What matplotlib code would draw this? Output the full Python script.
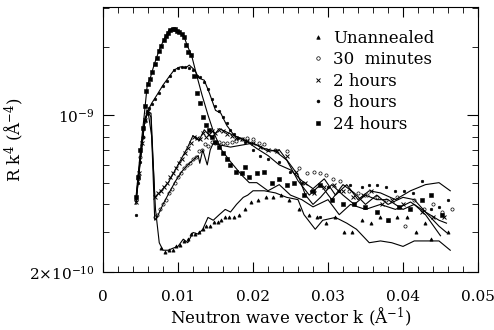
import numpy as np
import matplotlib.pyplot as plt
from matplotlib.ticker import FixedLocator, FixedFormatter, NullFormatter, MultipleLocator

plt.rcParams['font.family'] = 'DejaVu Serif'
plt.rcParams['mathtext.fontset'] = 'dejavuserif'

# R k^4 en unidades de 1e-10 A^-4, k en A^-1

# --- Unannealed ---
k_un_line = [0.0044, 0.005, 0.0056, 0.006, 0.0065, 0.007, 0.0075, 0.008, 0.0087, 0.0093, 0.010, 0.0107,
             0.0113, 0.012, 0.0127, 0.0133, 0.014, 0.0147, 0.0155, 0.0163, 0.017, 0.0178, 0.0187, 0.0193,
             0.020, 0.0215, 0.023, 0.0245, 0.026, 0.0268, 0.0283, 0.0293, 0.031, 0.0325, 0.0338, 0.0355,
             0.037, 0.0385, 0.040, 0.0415, 0.043, 0.0448, 0.0463]
R_un_line = [4.0, 6.5, 9.7, 10.4, 8.0, 3.8, 2.7, 2.5, 2.5, 2.55, 2.6, 2.8,
             2.7, 3.0, 2.95, 3.1, 3.5, 3.4, 3.6, 3.8, 3.7, 4.0, 4.3, 4.4,
             4.6, 4.6, 4.5, 4.3, 4.2, 3.6, 3.1, 3.4, 3.5, 3.3, 3.1, 2.7,
             2.75, 2.7, 2.6, 2.75, 2.75, 2.75, 2.5]
k_un_pts = [0.0078, 0.0083, 0.0088, 0.0093, 0.0098, 0.0103, 0.0108, 0.0113, 0.0118, 0.0123, 0.0128,
            0.0133, 0.0138, 0.0143, 0.0148, 0.0153, 0.0158, 0.0163, 0.0168, 0.0175, 0.0182, 0.0190,
            0.0198, 0.0207, 0.0217, 0.0227, 0.0237, 0.0248, 0.0262, 0.0275, 0.0285, 0.0298, 0.031,
            0.0322, 0.0332, 0.0345, 0.0358, 0.037, 0.038, 0.0392, 0.0405, 0.0418, 0.043, 0.0438, 0.046]
R_un_pts = [2.55, 2.45, 2.5, 2.5, 2.6, 2.65, 2.75, 2.8, 2.95, 2.95, 3.0,
            3.1, 3.2, 3.2, 3.35, 3.35, 3.4, 3.5, 3.5, 3.5, 3.6, 3.8,
            4.1, 4.2, 4.3, 4.3, 4.4, 4.2, 3.8, 3.6, 3.5, 3.3, 3.5,
            3.0, 3.0, 3.4, 3.3, 3.5, 3.4, 3.5, 3.5, 3.0, 3.3, 2.8, 3.0]

# --- 30 minutes ---
k_30_line = [0.0044, 0.005, 0.0056, 0.006, 0.0064, 0.0069, 0.0072, 0.008, 0.0088, 0.0097, 0.0105, 0.0113,
             0.012, 0.0127, 0.0129, 0.0133, 0.0139, 0.0143, 0.0147, 0.0157, 0.017, 0.0185, 0.020, 0.0215,
             0.023, 0.0245, 0.026, 0.0275, 0.029, 0.0305, 0.032, 0.0335, 0.035, 0.0365, 0.038, 0.040,
             0.0415, 0.043, 0.0448, 0.0458]
R_30_line = [4.2, 6.6, 9.6, 10.3, 9.8, 3.4, 3.5, 4.0, 4.5, 5.1, 5.6, 6.0,
             6.3, 6.6, 6.1, 7.0, 6.0, 7.0, 7.5, 7.35, 7.2, 7.35, 7.5, 7.1,
             6.9, 6.3, 5.1, 4.4, 4.9, 4.2, 4.9, 4.5, 4.0, 4.4, 4.0, 4.3,
             4.2, 3.7, 3.4, 3.3]
k_30_pts = [0.0044, 0.0047, 0.005, 0.0053, 0.0056, 0.0059, 0.0069, 0.0072, 0.0076, 0.008, 0.0084,
            0.0088, 0.0092, 0.0096, 0.010, 0.0104, 0.0108, 0.0112, 0.0116, 0.012, 0.0124, 0.0128,
            0.0132, 0.0136, 0.014, 0.0145, 0.015, 0.0155, 0.016, 0.0166, 0.0172, 0.0178, 0.0185,
            0.0192, 0.020, 0.0208, 0.0215, 0.023, 0.0245, 0.0262, 0.0272, 0.0282, 0.029, 0.0298,
            0.0307, 0.0316, 0.0328, 0.034, 0.0352, 0.0365, 0.0378, 0.0392, 0.0403, 0.0415, 0.0428,
            0.044, 0.0452, 0.0465]
R_30_pts = [4.2, 5.2, 6.5, 8.0, 9.4, 10.2, 3.5, 3.6, 3.8, 4.0, 4.2,
            4.5, 4.7, 5.0, 5.3, 5.5, 5.8, 6.0, 6.1, 6.4, 6.5, 6.9,
            7.0, 7.4, 7.3, 7.6, 7.5, 7.6, 7.5, 7.5, 7.6, 7.7, 7.8,
            7.9, 7.8, 7.5, 7.4, 7.0, 6.9, 5.8, 5.5, 5.6, 5.5, 5.4,
            5.2, 5.1, 4.6, 4.5, 4.4, 4.3, 4.2, 4.3, 3.2, 4.2, 3.8,
            4.0, 3.7, 3.8]

# --- 2 hours ---
k_2h_line = [0.0044, 0.005, 0.0056, 0.006, 0.0064, 0.0069, 0.0075, 0.0087, 0.010, 0.0113, 0.012, 0.0128,
             0.0135, 0.0145, 0.0155, 0.0165, 0.0175, 0.019, 0.0205, 0.022, 0.0235, 0.025, 0.026, 0.027,
             0.028, 0.029, 0.0305, 0.032, 0.0335, 0.035, 0.0365, 0.038, 0.040, 0.0415, 0.043, 0.045]
R_2h_line = [4.2, 6.5, 9.5, 10.3, 10.2, 4.3, 4.5, 5.0, 6.0, 7.2, 8.1, 7.7,
             8.6, 7.9, 8.7, 8.4, 8.1, 7.7, 7.35, 6.9, 7.0, 6.0, 5.4, 4.4,
             4.0, 4.3, 4.9, 4.4, 4.0, 4.4, 4.2, 4.2, 3.8, 4.0, 3.6, 2.9]
k_2h_pts = [0.0044, 0.0048, 0.0052, 0.0056, 0.006, 0.0069, 0.0073, 0.0077, 0.0081, 0.0085, 0.0089,
            0.0093, 0.0097, 0.0101, 0.0105, 0.0109, 0.0113, 0.0117, 0.0121, 0.0125, 0.0129, 0.0133,
            0.0137, 0.0141, 0.0145, 0.015, 0.0155, 0.016, 0.0166, 0.0172, 0.0178, 0.0185, 0.0192,
            0.020, 0.021, 0.022, 0.0232, 0.0245, 0.0258, 0.027, 0.0282, 0.0295, 0.0308, 0.032,
            0.0333, 0.0347, 0.0358, 0.0372, 0.0385, 0.040, 0.0425, 0.044, 0.0455]
R_2h_pts = [4.1, 5.5, 7.5, 9.5, 10.4, 4.3, 4.5, 4.6, 4.8, 5.0, 5.3,
            5.5, 5.8, 6.1, 6.4, 6.8, 7.1, 7.5, 8.0, 7.9, 7.8, 8.3,
            8.0, 8.2, 8.5, 8.3, 8.6, 8.5, 8.2, 8.1, 7.9, 7.8, 7.7,
            7.5, 7.2, 7.0, 6.9, 6.6, 5.6, 5.0, 4.5, 4.8, 4.9, 4.6,
            4.3, 4.4, 4.6, 4.0, 4.2, 4.0, 3.7, 3.5, 3.5]

# --- 8 hours ---
k_8h_line = [0.0044, 0.005, 0.0055, 0.006, 0.0065, 0.0072, 0.008, 0.0088, 0.0095, 0.0103, 0.011, 0.0115,
             0.0122, 0.0128, 0.0135, 0.0142, 0.015, 0.0157, 0.0165, 0.0175, 0.019, 0.0205, 0.022, 0.0235,
             0.025, 0.0265, 0.028, 0.0295, 0.031, 0.0325, 0.034, 0.0355, 0.037, 0.039, 0.041, 0.043,
             0.0448, 0.0463]
R_8h_line = [4.1, 6.3, 9.0, 10.5, 11.3, 12.3, 13.6, 14.8, 15.9, 16.4, 16.2, 16.7,
             15.9, 14.6, 14.3, 12.5, 10.5, 10.2, 9.0, 8.1, 7.7, 7.1, 6.6, 6.0,
             5.7, 5.1, 4.7, 5.2, 4.4, 4.9, 4.2, 4.6, 4.5, 4.2, 4.6, 4.9,
             5.0, 4.6]
k_8h_pts = [0.0044, 0.0047, 0.005, 0.0053, 0.0056, 0.0059, 0.0062, 0.0066, 0.007, 0.0075, 0.008,
            0.0085, 0.009, 0.0095, 0.010, 0.0105, 0.011, 0.0115, 0.012, 0.0125, 0.013, 0.0135,
            0.014, 0.0145, 0.015, 0.0155, 0.016, 0.0165, 0.017, 0.0175, 0.018, 0.019, 0.020,
            0.021, 0.022, 0.0235, 0.025, 0.0265, 0.0278, 0.029, 0.030, 0.0315, 0.033, 0.0345,
            0.0355, 0.0365, 0.0378, 0.039, 0.0402, 0.0413, 0.0425, 0.0438, 0.0448, 0.046]
R_8h_pts = [3.6, 5.0, 6.2, 8.0, 9.5, 10.4, 10.8, 11.2, 11.8, 12.5, 13.5,
            14.2, 15.0, 15.8, 16.2, 16.3, 16.4, 16.2, 15.8, 15.0, 14.8, 14.0,
            13.0, 11.8, 11.0, 10.4, 9.8, 9.2, 8.6, 8.2, 7.9, 7.6, 7.0,
            6.6, 6.4, 6.2, 5.6, 5.0, 4.6, 3.5, 4.8, 4.6, 4.9, 4.8,
            4.9, 4.9, 4.8, 4.6, 4.6, 4.5, 5.1, 3.8, 3.9, 4.2]

# --- 24 hours ---
k_24_line = [0.0044, 0.005, 0.0055, 0.0059, 0.0063, 0.0068, 0.0075, 0.0082, 0.0088, 0.0093, 0.010, 0.0108,
             0.0112, 0.0118, 0.0125, 0.0132, 0.014, 0.0148, 0.0158, 0.017, 0.0185, 0.0195, 0.0205, 0.022,
             0.0235, 0.025, 0.0265, 0.028, 0.030, 0.0315, 0.033, 0.035, 0.037, 0.039, 0.041, 0.043,
             0.0448, 0.0458]
R_24_line = [4.3, 7.0, 10.0, 13.6, 14.6, 16.7, 19.5, 22.0, 23.9, 24.4, 23.6, 22.5,
             20.5, 18.5, 15.0, 12.3, 10.0, 8.3, 7.0, 6.2, 5.4, 5.0, 5.0, 4.6,
             4.9, 4.4, 4.2, 3.9, 4.2, 3.6, 4.0, 3.8, 4.0, 3.8, 4.1, 3.7,
             3.2, 3.0]
k_24_pts = [0.0044, 0.0047, 0.005, 0.0053, 0.0056, 0.0058, 0.006, 0.0063, 0.0066, 0.0069, 0.0072,
            0.0075, 0.0078, 0.0081, 0.0084, 0.0087, 0.009, 0.0093, 0.0096, 0.0099, 0.0102, 0.0105,
            0.0108, 0.0111, 0.0114, 0.0118, 0.0122, 0.0126, 0.013, 0.0134, 0.0138, 0.0142, 0.0146,
            0.015, 0.0155, 0.016, 0.0165, 0.017, 0.0177, 0.0185, 0.019, 0.0195, 0.0205, 0.0215,
            0.0225, 0.0235, 0.0245, 0.0255, 0.0268, 0.028, 0.029, 0.0305, 0.032, 0.0335, 0.035,
            0.0365, 0.038, 0.0395, 0.041, 0.0425, 0.0437, 0.0452]
R_24_pts = [4.3, 5.3, 7.0, 8.8, 11.0, 12.8, 13.8, 14.5, 15.5, 16.8, 18.0,
            19.3, 20.4, 21.5, 22.4, 23.3, 24.0, 24.3, 24.2, 23.8, 23.5, 23.0,
            22.2, 20.5, 19.0, 18.5, 15.0, 12.5, 11.3, 9.8, 9.0, 8.6, 8.0,
            7.6, 7.2, 6.8, 6.4, 6.0, 5.6, 5.5, 5.9, 5.3, 5.5, 5.6,
            5.0, 5.2, 4.9, 5.0, 4.4, 4.6, 4.9, 4.2, 4.0, 4.0, 3.9,
            3.7, 3.4, 3.9, 3.8, 4.2, 4.4, 3.6]

series = [
    ('Unannealed', k_un_line, R_un_line, k_un_pts, R_un_pts, '^', 'black', 2.3, 0.5),
    ('30  minutes', k_30_line, R_30_line, k_30_pts, R_30_pts, 'o', 'none', 2.3, 0.5),
    ('2 hours', k_2h_line, R_2h_line, k_2h_pts, R_2h_pts, 'x', 'black', 2.3, 0.7),
    ('8 hours', k_8h_line, R_8h_line, k_8h_pts, R_8h_pts, 'o', 'black', 1.9, 0.4),
    ('24 hours', k_24_line, R_24_line, k_24_pts, R_24_pts, 's', 'black', 2.2, 0.4),
]

fig = plt.figure(figsize=(4.94, 3.30), dpi=100)
ax = fig.add_axes([0.2085, 0.1758, 0.7591, 0.803])

handles = []
for label, kl, rl, kp, rp, m, fc, ms, mew in series:
    ax.plot(kl, np.array(rl) * 1e-10, color='black', lw=0.8)
    h, = ax.plot(kp, np.array(rp) * 1e-10, ls='none', marker=m, ms=ms,
                 mfc=fc, mec='black', mew=mew, label=label)
    handles.append(h)

ax.set_yscale('log')
ax.set_xlim(0, 0.05)
ax.set_ylim(2e-10, 3.03e-9)

ax.set_xticks([0, 0.01, 0.02, 0.03, 0.04, 0.05])
ax.set_xticklabels(['0', '0.01', '0.02', '0.03', '0.04', '0.05'])
ax.xaxis.set_minor_locator(MultipleLocator(0.002))

ax.yaxis.set_major_locator(FixedLocator([2e-10, 1e-9]))
ax.yaxis.set_major_formatter(FixedFormatter([r'$2{\times}10^{-10}$', r'$10^{-9}$']))
ax.yaxis.set_minor_locator(FixedLocator([3e-10, 4e-10, 5e-10, 6e-10, 7e-10, 8e-10, 9e-10, 2e-9, 3e-9]))
ax.yaxis.set_minor_formatter(NullFormatter())

ax.tick_params(which='both', direction='in', top=True, right=True, labelsize=11)
ax.tick_params(axis='x', which='major', length=7, pad=13)
ax.tick_params(axis='y', which='major', length=8, pad=6)
ax.tick_params(which='minor', length=4)

ax.set_xlabel(r'Neutron wave vector k ($\mathrm{\AA}^{-1}$)', fontsize=12, labelpad=1)
ax.set_ylabel(r'R k$^4$ ($\mathrm{\AA}^{-4}$)', fontsize=12)
ax.yaxis.set_label_coords(-0.208, 0.5)

ax.legend(handles=handles, loc='upper left', bbox_to_anchor=(0.552, 0.915), frameon=False,
          fontsize=12, handlelength=1.0, handletextpad=0.4, labelspacing=0.27, borderpad=0,
          borderaxespad=0, markerscale=1.1)

fig.savefig('out.png', dpi=100)
